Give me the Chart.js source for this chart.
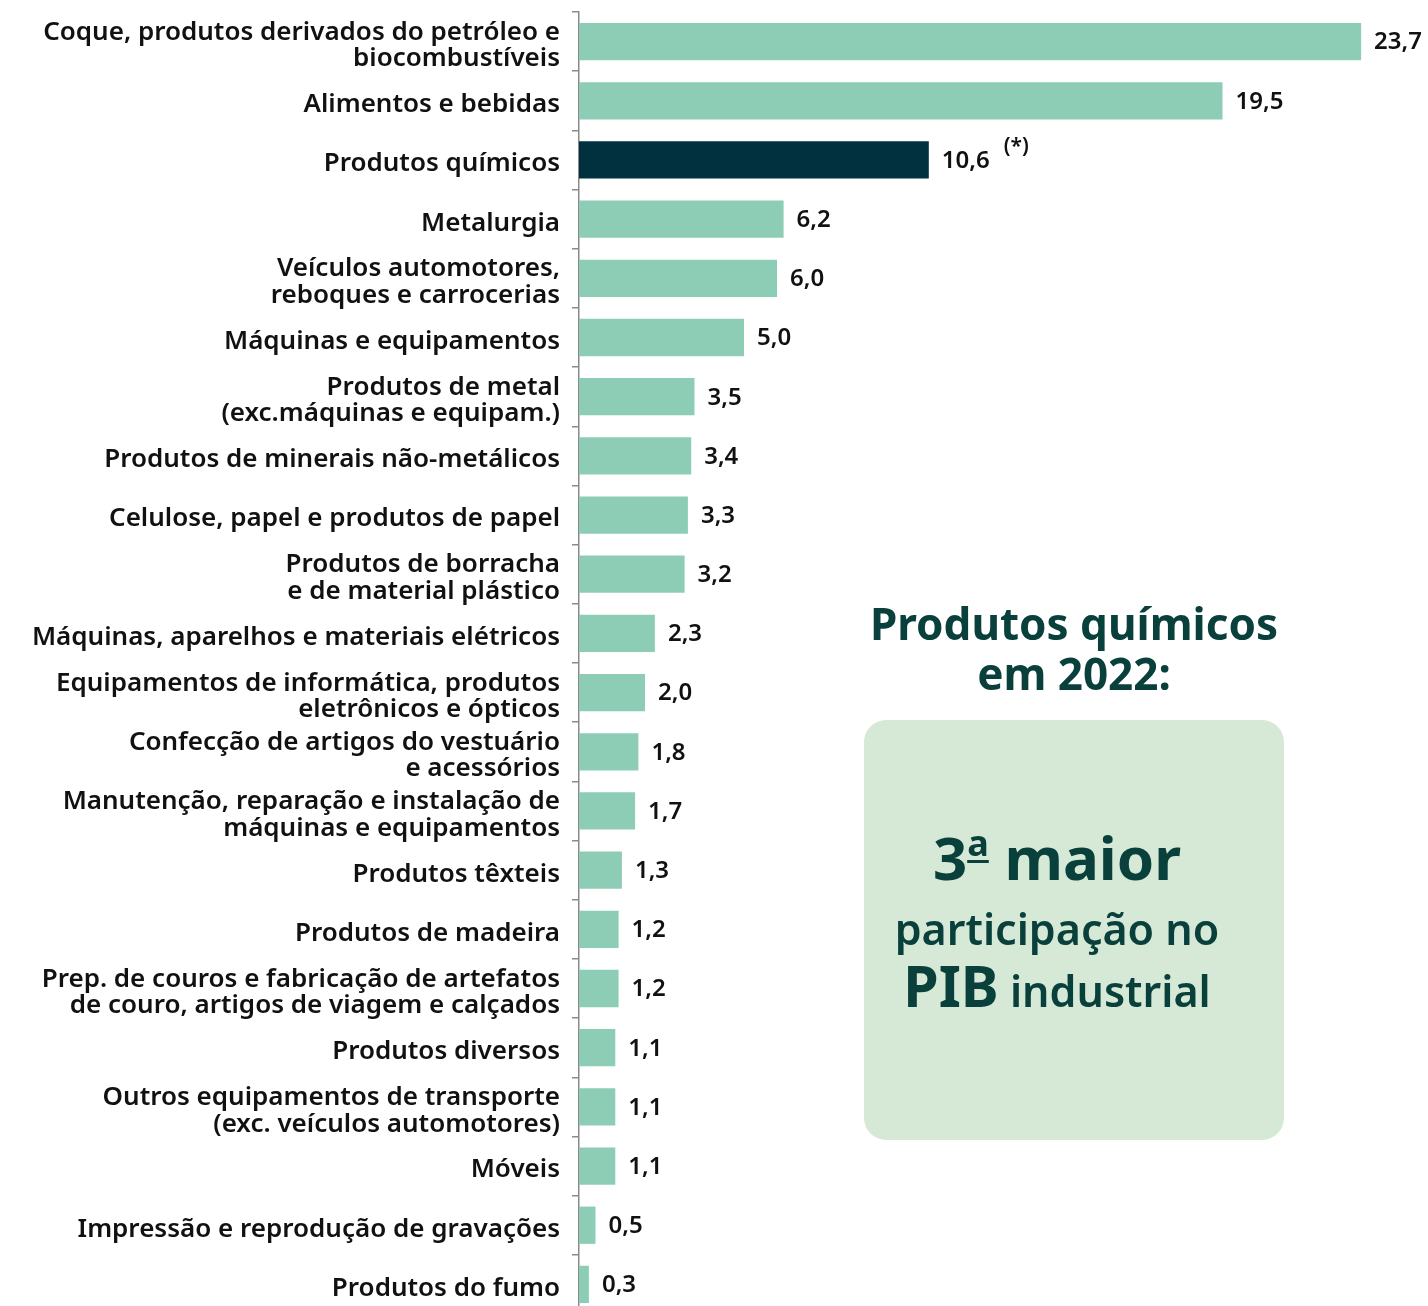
<!DOCTYPE html>
<html lang="pt-BR">
<head>
<meta charset="utf-8">
<script src="https://cdn.jsdelivr.net/npm/chart.js@4/dist/chart.umd.min.js"></script>
<style>
  html, body { margin: 0; padding: 0; background: #ffffff; overflow: hidden; }
  #wrap { position: relative; width: 1428px; height: 1316px; }
  #chart { position: absolute; left: 0; top: 0; }
  .title { position: absolute; left: 864px; width: 420px; top: 598px; text-align: center;
           font-family: "Noto Sans", sans-serif; font-weight: 700; font-size: 44px; line-height: 50px; color: #0a403c; }
  .box { position: absolute; left: 864px; top: 720px; width: 420px; height: 420px; background: #d5e9d6;
         border-radius: 22px; font-family: "Noto Sans", sans-serif; color: #0a403c; text-align: center; }
  .l1 { position: absolute; left: 0; right: 0; top: 83px; font-weight: 700; font-size: 60px; line-height: 80px; padding-right: 34px; }
  .l1 u { font-size: 36px; vertical-align: 24px; text-decoration-thickness: 3px; text-underline-offset: 4px; }
  .l2 { position: absolute; left: 0; right: 0; top: 181px; font-weight: 600; font-size: 43px; line-height: 56px; padding-right: 34px; }
  .l3 { position: absolute; left: 0; right: 0; top: 231px; font-weight: 600; font-size: 43px; line-height: 68px; padding-right: 34px; }
  .l3 b { font-size: 57px; font-weight: 700; }
</style>
</head>
<body>
<div id="wrap">
  <canvas id="chart" width="1428" height="1316"></canvas>
  <div class="title">Produtos químicos<br>em 2022:</div>
  <div class="box">
    <div class="l1">3<u>a</u> maior</div>
    <div class="l2">participação no</div>
    <div class="l3"><b>PIB</b> industrial</div>
  </div>
</div>
<script>
const categories = [
  ["Coque, produtos derivados do petróleo e", "biocombustíveis"],
  "Alimentos e bebidas",
  "Produtos químicos",
  "Metalurgia",
  ["Veículos automotores,", "reboques e carrocerias"],
  "Máquinas e equipamentos",
  ["Produtos de metal", "(exc.máquinas e equipam.)"],
  "Produtos de minerais não-metálicos",
  "Celulose, papel e produtos de papel",
  ["Produtos de borracha", "e de material plástico"],
  "Máquinas, aparelhos e materiais elétricos",
  ["Equipamentos de informática, produtos", "eletrônicos e ópticos"],
  ["Confecção de artigos do vestuário", "e acessórios"],
  ["Manutenção, reparação e instalação de", "máquinas e equipamentos"],
  "Produtos têxteis",
  "Produtos de madeira",
  ["Prep. de couros e fabricação de artefatos", "de couro, artigos de viagem e calçados"],
  "Produtos diversos",
  ["Outros equipamentos de transporte", "(exc. veículos automotores)"],
  "Móveis",
  "Impressão e reprodução de gravações",
  "Produtos do fumo"
];
const values = [23.7, 19.5, 10.6, 6.2, 6.0, 5.0, 3.5, 3.4, 3.3, 3.2, 2.3, 2.0, 1.8, 1.7, 1.3, 1.2, 1.2, 1.1, 1.1, 1.1, 0.5, 0.3];
const highlightIndex = 2;
const highlightNote = "(*)";

const baseColor = "#8dcdb6";
const highlightColor = "#01303f";
const barColors = values.map((v, i) => i === highlightIndex ? highlightColor : baseColor);

const fmt = v => v.toFixed(1).replace(".", ",");

const valueLabels = {
  id: "valueLabels",
  afterDatasetsDraw(chart) {
    const ctx = chart.ctx;
    const meta = chart.getDatasetMeta(0);
    ctx.save();
    ctx.fillStyle = "#111111";
    ctx.textBaseline = "middle";
    ctx.textAlign = "left";
    meta.data.forEach((bar, i) => {
      ctx.font = "600 24px 'Noto Sans', sans-serif";
      const txt = fmt(values[i]);
      const x = bar.x + 13;
      ctx.fillText(txt, x, bar.y + 1);
      if (i === highlightIndex) {
        const w = ctx.measureText(txt).width;
        ctx.font = "600 21px 'Noto Sans', sans-serif";
        ctx.fillText(highlightNote, x + w + 14, bar.y - 13);
      }
    });
    ctx.restore();
  }
};

new Chart(document.getElementById("chart"), {
  type: "bar",
  data: {
    labels: categories,
    datasets: [{
      data: values,
      backgroundColor: barColors,
      barPercentage: 0.63,
      categoryPercentage: 1.0,
      borderWidth: 0
    }]
  },
  options: {
    indexAxis: "y",
    responsive: false,
    animation: false,
    maintainAspectRatio: false,
    layout: { padding: { left: 0, right: 24, top: 12, bottom: 2 } },
    plugins: { legend: { display: false }, tooltip: { enabled: false } },
    scales: {
      x: { display: false, min: 0, max: 25 },
      y: {
        afterFit(scale) { scale.width = 579; scale.paddingTop = 0; scale.paddingBottom = 0; },
        border: { display: true, color: "#8a8a8a", width: 1.5 },
        grid: { drawOnChartArea: false, drawTicks: true, tickLength: 7, color: "#8a8a8a", lineWidth: 1.5, offset: true },
        ticks: {
          color: "#111111",
          padding: 12,
          labelOffset: 4,
          font: { family: "'Noto Sans', sans-serif", size: 26, weight: "600", lineHeight: 1.02 }
        }
      }
    }
  },
  plugins: [valueLabels]
});
</script>
</body>
</html>
